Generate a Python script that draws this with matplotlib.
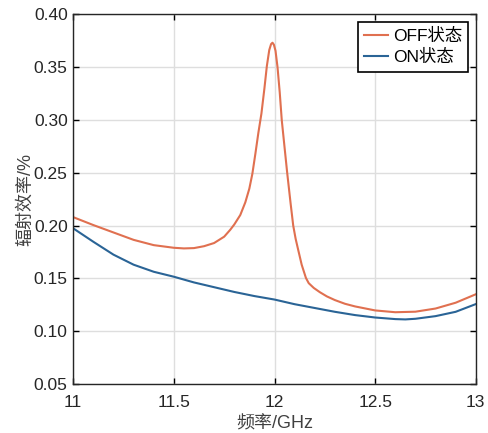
import numpy as np
import matplotlib.pyplot as plt

plt.rcParams['font.family'] = ['Liberation Sans', 'Noto Sans CJK SC']

# frequency (GHz) and radiation efficiency
off_freq = [11.0, 11.1, 11.2, 11.3, 11.4, 11.5, 11.55, 11.6, 11.65, 11.7, 11.75,
            11.78, 11.8, 11.83, 11.855, 11.875, 11.89, 11.905, 11.92, 11.935,
            11.95, 11.962, 11.974, 11.983, 11.99, 11.997, 12.005, 12.015, 12.026,
            12.036, 12.05, 12.063, 12.08, 12.093, 12.105, 12.118, 12.135, 12.156,
            12.17, 12.195, 12.225, 12.26, 12.3, 12.35, 12.4, 12.5, 12.6, 12.7,
            12.8, 12.9, 13.0]
off_eff = [0.2080, 0.2005, 0.1935, 0.1865, 0.1815, 0.1790, 0.1784, 0.1787, 0.1805,
           0.1835, 0.1895, 0.1960, 0.2010, 0.2100, 0.2220, 0.2350, 0.2490, 0.2680,
           0.2880, 0.3060, 0.3300, 0.3510, 0.3662, 0.3718, 0.3731, 0.3712, 0.3655,
           0.3500, 0.3260, 0.3000, 0.2740, 0.2500, 0.2210, 0.2000, 0.1875, 0.1768,
           0.1630, 0.1505, 0.1455, 0.1410, 0.1370, 0.1330, 0.1295, 0.1260, 0.1235,
           0.1197, 0.1180, 0.1185, 0.1215, 0.1270, 0.1350]

on_freq = [11.0, 11.1, 11.2, 11.3, 11.4, 11.5, 11.6, 11.7, 11.8, 11.9, 12.0,
           12.1, 12.2, 12.3, 12.4, 12.5, 12.6, 12.65, 12.7, 12.8, 12.9, 13.0]
on_eff = [0.1974, 0.1847, 0.1725, 0.1630, 0.1563, 0.1516, 0.1462, 0.1417, 0.1372,
          0.1333, 0.1300, 0.1256, 0.1220, 0.1184, 0.1153, 0.1130, 0.1115, 0.1112,
          0.1118, 0.1143, 0.1184, 0.1257]

x_ticks = [11, 11.5, 12, 12.5, 13]
x_labels = ['11', '11.5', '12', '12.5', '13']
y_ticks = [0.05, 0.10, 0.15, 0.20, 0.25, 0.30, 0.35, 0.40]
y_labels = ['0.05', '0.10', '0.15', '0.20', '0.25', '0.30', '0.35', '0.40']

fig = plt.figure(figsize=(4.88, 4.33), dpi=100)
ax = fig.add_axes([0.150, 0.113, 0.825, 0.854])

ax.plot(off_freq, off_eff, color='#E07050', lw=1.5, label='OFF状态')
ax.plot(on_freq, on_eff, color='#2A6496', lw=1.5, label='ON状态')

ax.set_xlim(11, 13)
ax.set_ylim(0.05, 0.40)
ax.set_xticks(x_ticks)
ax.set_xticklabels(x_labels)
ax.set_yticks(y_ticks)
ax.set_yticklabels(y_labels)
ax.grid(True, color='#dedede', lw=1)
ax.tick_params(direction='in', top=True, right=True, labelsize=12.5,
               labelcolor='#262626', length=4, width=1)
ax.tick_params(axis='x', pad=8)
ax.tick_params(axis='y', pad=4)
for s in ax.spines.values():
    s.set_color('#262626')
    s.set_linewidth(1)

ax.set_xlabel('频率/GHz', fontsize=13, color='#404040', labelpad=4)
ax.set_ylabel('辐射效率/%', fontsize=13, color='#404040', labelpad=0)

leg = ax.legend(loc='upper right', fontsize=12.5, fancybox=False, framealpha=1,
                edgecolor='black', borderpad=0.35, handlelength=1.4,
                handletextpad=0.25, labelspacing=0.3, borderaxespad=0.45)
leg.get_frame().set_linewidth(1.2)

fig.savefig('out.png', dpi=100)
